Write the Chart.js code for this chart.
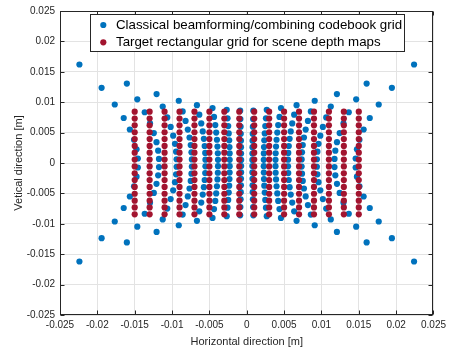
<!DOCTYPE html>
<html>
<head>
<meta charset="utf-8">
<script src="https://cdn.jsdelivr.net/npm/chart.js@4.4.1/dist/chart.umd.min.js"></script>
<style>
  html, body { margin: 0; padding: 0; background: #fff; }
</style>
</head>
<body>
<canvas id="gridChart" width="450" height="352"></canvas>
<script>
// axis ticks (same on both axes)
const tickValues = [-0.025, -0.02, -0.015, -0.01, -0.005, 0, 0.005, 0.01, 0.015, 0.02, 0.025];
const tickLabels = ['-0.025', '-0.02', '-0.015', '-0.01', '-0.005', '0', '0.005', '0.01', '0.015', '0.02', '0.025'];

const seriesNames = ['Classical beamforming/combining codebook grid', 'Target rectangular grid for scene depth maps'];

// target grid: columns and rows
const redX = [-0.015, -0.013, -0.011, -0.009, -0.007, -0.005, -0.003, -0.001, 0.001, 0.003, 0.005, 0.007, 0.009, 0.011, 0.013, 0.015];
const redY = [0.00844, 0.00731, 0.00619, 0.00506, 0.00394, 0.00281, 0.00169, 0.00056, -0.00056, -0.00169, -0.00281, -0.00394, -0.00506, -0.00619, -0.00731, -0.00844];

// codebook grid, read row by row (top to bottom, left to right)
const blueX = [
  [-0.02240, -0.01605, -0.01207, -0.00910, -0.00667, -0.00458, -0.00268, -0.00088, 0.00088, 0.00268, 0.00458, 0.00667, 0.00910, 0.01207, 0.01605, 0.02240],
  [-0.01943, -0.01465, -0.01125, -0.00858, -0.00635, -0.00438, -0.00257, -0.00085, 0.00085, 0.00257, 0.00438, 0.00635, 0.00858, 0.01125, 0.01465, 0.01943],
  [-0.01767, -0.01366, -0.01064, -0.00819, -0.00609, -0.00421, -0.00248, -0.00082, 0.00082, 0.00248, 0.00421, 0.00609, 0.00819, 0.01064, 0.01366, 0.01767],
  [-0.01647, -0.01295, -0.01019, -0.00789, -0.00589, -0.00409, -0.00241, -0.00080, 0.00080, 0.00241, 0.00409, 0.00589, 0.00789, 0.01019, 0.01295, 0.01647],
  [-0.01565, -0.01244, -0.00985, -0.00766, -0.00574, -0.00399, -0.00235, -0.00078, 0.00078, 0.00235, 0.00399, 0.00574, 0.00766, 0.00985, 0.01244, 0.01565],
  [-0.01509, -0.01208, -0.00961, -0.00750, -0.00563, -0.00392, -0.00231, -0.00077, 0.00077, 0.00231, 0.00392, 0.00563, 0.00750, 0.00961, 0.01208, 0.01509],
  [-0.01475, -0.01186, -0.00946, -0.00740, -0.00556, -0.00387, -0.00229, -0.00076, 0.00076, 0.00229, 0.00387, 0.00556, 0.00740, 0.00946, 0.01186, 0.01475],
  [-0.01458, -0.01175, -0.00939, -0.00735, -0.00553, -0.00385, -0.00228, -0.00075, 0.00075, 0.00228, 0.00385, 0.00553, 0.00735, 0.00939, 0.01175, 0.01458],
  [-0.01458, -0.01175, -0.00939, -0.00735, -0.00553, -0.00385, -0.00228, -0.00075, 0.00075, 0.00228, 0.00385, 0.00553, 0.00735, 0.00939, 0.01175, 0.01458],
  [-0.01475, -0.01186, -0.00946, -0.00740, -0.00556, -0.00387, -0.00229, -0.00076, 0.00076, 0.00229, 0.00387, 0.00556, 0.00740, 0.00946, 0.01186, 0.01475],
  [-0.01509, -0.01208, -0.00961, -0.00750, -0.00563, -0.00392, -0.00231, -0.00077, 0.00077, 0.00231, 0.00392, 0.00563, 0.00750, 0.00961, 0.01208, 0.01509],
  [-0.01565, -0.01244, -0.00985, -0.00766, -0.00574, -0.00399, -0.00235, -0.00078, 0.00078, 0.00235, 0.00399, 0.00574, 0.00766, 0.00985, 0.01244, 0.01565],
  [-0.01647, -0.01295, -0.01019, -0.00789, -0.00589, -0.00409, -0.00241, -0.00080, 0.00080, 0.00241, 0.00409, 0.00589, 0.00789, 0.01019, 0.01295, 0.01647],
  [-0.01767, -0.01366, -0.01064, -0.00819, -0.00609, -0.00421, -0.00248, -0.00082, 0.00082, 0.00248, 0.00421, 0.00609, 0.00819, 0.01064, 0.01366, 0.01767],
  [-0.01943, -0.01465, -0.01125, -0.00858, -0.00635, -0.00438, -0.00257, -0.00085, 0.00085, 0.00257, 0.00438, 0.00635, 0.00858, 0.01125, 0.01465, 0.01943],
  [-0.02240, -0.01605, -0.01207, -0.00910, -0.00667, -0.00458, -0.00268, -0.00088, 0.00088, 0.00268, 0.00458, 0.00667, 0.00910, 0.01207, 0.01605, 0.02240]
];
const blueY = [
  [0.01620, 0.01306, 0.01133, 0.01024, 0.00951, 0.00903, 0.00874, 0.00860, 0.00860, 0.00874, 0.00903, 0.00951, 0.01024, 0.01133, 0.01306, 0.01620],
  [0.01236, 0.01047, 0.00928, 0.00848, 0.00794, 0.00757, 0.00735, 0.00724, 0.00724, 0.00735, 0.00757, 0.00794, 0.00848, 0.00928, 0.01047, 0.01236],
  [0.00962, 0.00835, 0.00750, 0.00692, 0.00651, 0.00624, 0.00607, 0.00598, 0.00598, 0.00607, 0.00624, 0.00651, 0.00692, 0.00750, 0.00835, 0.00962],
  [0.00740, 0.00653, 0.00593, 0.00550, 0.00520, 0.00500, 0.00487, 0.00480, 0.00480, 0.00487, 0.00500, 0.00520, 0.00550, 0.00593, 0.00653, 0.00740],
  [0.00551, 0.00492, 0.00449, 0.00419, 0.00397, 0.00382, 0.00373, 0.00368, 0.00368, 0.00373, 0.00382, 0.00397, 0.00419, 0.00449, 0.00492, 0.00551],
  [0.00382, 0.00343, 0.00315, 0.00295, 0.00280, 0.00270, 0.00263, 0.00260, 0.00260, 0.00263, 0.00270, 0.00280, 0.00295, 0.00315, 0.00343, 0.00382],
  [0.00225, 0.00203, 0.00187, 0.00175, 0.00166, 0.00160, 0.00157, 0.00155, 0.00155, 0.00157, 0.00160, 0.00166, 0.00175, 0.00187, 0.00203, 0.00225],
  [0.00074, 0.00067, 0.00062, 0.00058, 0.00055, 0.00053, 0.00052, 0.00051, 0.00051, 0.00052, 0.00053, 0.00055, 0.00058, 0.00062, 0.00067, 0.00074],
  [-0.00074, -0.00067, -0.00062, -0.00058, -0.00055, -0.00053, -0.00052, -0.00051, -0.00051, -0.00052, -0.00053, -0.00055, -0.00058, -0.00062, -0.00067, -0.00074],
  [-0.00225, -0.00203, -0.00187, -0.00175, -0.00166, -0.00160, -0.00157, -0.00155, -0.00155, -0.00157, -0.00160, -0.00166, -0.00175, -0.00187, -0.00203, -0.00225],
  [-0.00382, -0.00343, -0.00315, -0.00295, -0.00280, -0.00270, -0.00263, -0.00260, -0.00260, -0.00263, -0.00270, -0.00280, -0.00295, -0.00315, -0.00343, -0.00382],
  [-0.00551, -0.00492, -0.00449, -0.00419, -0.00397, -0.00382, -0.00373, -0.00368, -0.00368, -0.00373, -0.00382, -0.00397, -0.00419, -0.00449, -0.00492, -0.00551],
  [-0.00740, -0.00653, -0.00593, -0.00550, -0.00520, -0.00500, -0.00487, -0.00480, -0.00480, -0.00487, -0.00500, -0.00520, -0.00550, -0.00593, -0.00653, -0.00740],
  [-0.00962, -0.00835, -0.00750, -0.00692, -0.00651, -0.00624, -0.00607, -0.00598, -0.00598, -0.00607, -0.00624, -0.00651, -0.00692, -0.00750, -0.00835, -0.00962],
  [-0.01236, -0.01047, -0.00928, -0.00848, -0.00794, -0.00757, -0.00735, -0.00724, -0.00724, -0.00735, -0.00757, -0.00794, -0.00848, -0.00928, -0.01047, -0.01236],
  [-0.01620, -0.01306, -0.01133, -0.01024, -0.00951, -0.00903, -0.00874, -0.00860, -0.00860, -0.00874, -0.00903, -0.00951, -0.01024, -0.01133, -0.01306, -0.01620]
];

const BLUE = '#0072BD';
const RED = '#A2142F';
const AXIS = '#262626';

const bluePts = [];
blueX.forEach((row, r) => row.forEach((x, c) => bluePts.push({ x: x, y: blueY[r][c] })));
const redPts = [];
redY.forEach(y => redX.forEach(x => redPts.push({ x: x, y: y })));

// box, inward ticks and the legend inside the axes (matlab look)
const matlabFrame = {
  id: 'matlabFrame',
  afterDraw(chart) {
    const { ctx, chartArea: a, scales } = chart;
    const L = Math.round(a.left) + 0.5, R = Math.round(a.right) - 0.5;
    const T = Math.round(a.top) + 0.5, B = Math.round(a.bottom) - 0.5;
    ctx.save();
    ctx.strokeStyle = AXIS;
    ctx.lineWidth = 1;
    ctx.strokeRect(L, T, R - L, B - T);
    ctx.beginPath();
    tickValues.forEach(v => {
      const px = Math.round(scales.x.getPixelForValue(v)) + 0.5;
      ctx.moveTo(px, B); ctx.lineTo(px, B - 4);
      ctx.moveTo(px, T); ctx.lineTo(px, T + 4);
      const py = Math.round(scales.y.getPixelForValue(v)) + 0.5;
      ctx.moveTo(L, py); ctx.lineTo(L + 4, py);
      ctx.moveTo(R, py); ctx.lineTo(R - 4, py);
    });
    ctx.stroke();

    // legend
    const lx = 90.5, ly = 14.5, lw = 314, lh = 37;
    ctx.fillStyle = '#fff';
    ctx.fillRect(lx, ly, lw, lh);
    ctx.strokeRect(lx, ly, lw, lh);
    ctx.font = '13.3px "Liberation Sans", Arial, Helvetica, sans-serif';
    ctx.textBaseline = 'middle';
    [BLUE, RED].forEach((col, i) => {
      const cy = 25 + i * 17.3;
      ctx.fillStyle = col;
      ctx.beginPath();
      ctx.arc(103.3, cy, 3.1, 0, Math.PI * 2);
      ctx.fill();
      ctx.fillStyle = '#000';
      ctx.fillText(seriesNames[i], 116, cy + 0.5);
    });
    ctx.restore();
  }
};

const fontFam = '"Liberation Sans", Arial, Helvetica, sans-serif';

function axisOpts(title, isX) {
  return {
    type: 'linear',
    min: -0.025,
    max: 0.025,
    afterBuildTicks: s => { s.ticks = tickValues.map(v => ({ value: v })); },
    afterFit: s => { if (isX) s.height = 37; else s.width = 60; },
    ticks: {
      autoSkip: false,
      maxRotation: 0,
      padding: isX ? 4 : 5,
      color: AXIS,
      font: { size: 10, family: fontFam },
      callback: (v, i) => tickLabels[i]
    },
    grid: { color: '#e3e3e3', drawTicks: false },
    border: { display: false },
    title: {
      display: true,
      text: title,
      color: AXIS,
      font: { size: 11, family: fontFam },
      padding: isX ? { top: 0, bottom: 3 } : { top: 12, bottom: 0 }
    }
  };
}

new Chart(document.getElementById('gridChart').getContext('2d'), {
  type: 'scatter',
  data: {
    datasets: [
      {
        label: seriesNames[0],
        data: bluePts,
        backgroundColor: BLUE,
        borderWidth: 0,
        pointRadius: 3.1,
        order: 1
      },
      {
        label: seriesNames[1],
        data: redPts,
        backgroundColor: RED,
        borderWidth: 0,
        pointRadius: 3.1,
        order: 0 // drawn on top of the codebook grid
      }
    ]
  },
  options: {
    responsive: false,
    animation: false,
    layout: { padding: { top: 9, right: 16, left: 0, bottom: 0 } },
    scales: {
      x: axisOpts('Horizontal direction [m]', true),
      y: axisOpts('Vetical direction [m]', false)
    },
    plugins: {
      legend: { display: false },
      tooltip: { enabled: false }
    }
  },
  plugins: [matlabFrame]
});
</script>
</body>
</html>
